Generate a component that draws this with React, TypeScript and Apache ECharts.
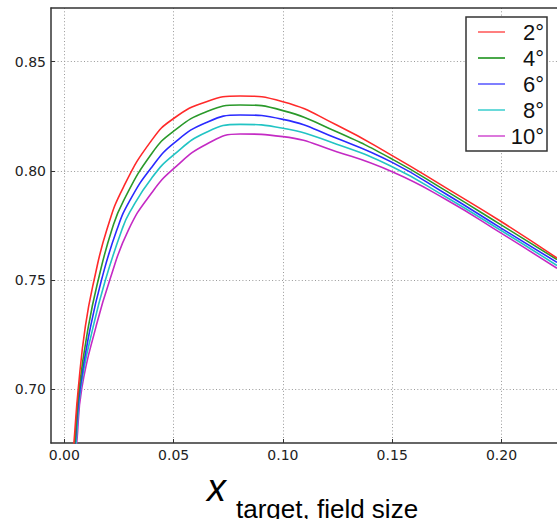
import React, { useEffect, useRef } from "react";
import * as echarts from "echarts";

// Series names
const seriesNames = ["2°", "4°", "6°", "8°", "10°"];
const lineColors = ["#ff2a2a", "#2a992a", "#2a2aff", "#22c4c4", "#c42ac4"];
const legendColors = ["#ff7f7f", "#4aa84a", "#7f7fff", "#6adada", "#dc78dc"];

// Tick values
const xTicks = [0, 0.05, 0.1, 0.15, 0.2];
const yTicks = [0.7, 0.75, 0.8, 0.85];

// 2°
const x2 = [0.0036, 0.0044, 0.0064, 0.0096, 0.0137, 0.0194, 0.027, 0.04, 0.05, 0.065, 0.0804, 0.1, 0.1246, 0.15, 0.175, 0.2, 0.2254];
const y2 = [0.665, 0.6755, 0.7005, 0.7287, 0.7504, 0.7729, 0.7925, 0.8141, 0.824, 0.8317, 0.8343, 0.8317, 0.821, 0.807, 0.792, 0.7767, 0.7601];
// 4°
const x4 = [0.004, 0.0048, 0.0068, 0.011, 0.0156, 0.0217, 0.027, 0.04, 0.05, 0.065, 0.0804, 0.1, 0.1246, 0.15, 0.175, 0.2, 0.2254];
const y4 = [0.665, 0.6755, 0.7005, 0.7287, 0.7504, 0.7729, 0.7862, 0.808, 0.8182, 0.8271, 0.8302, 0.8276, 0.8179, 0.8054, 0.7906, 0.7752, 0.7594];
// 6°
const x6 = [0.0043, 0.005, 0.0072, 0.012, 0.0171, 0.024, 0.03, 0.04, 0.05, 0.065, 0.0804, 0.1, 0.1246, 0.15, 0.175, 0.2, 0.2254];
const y6 = [0.665, 0.6755, 0.7005, 0.7287, 0.7504, 0.7729, 0.7865, 0.8017, 0.8126, 0.8222, 0.8256, 0.8236, 0.8149, 0.8039, 0.7892, 0.7737, 0.7581];
// 8°
const x8 = [0.0046, 0.0054, 0.0075, 0.0132, 0.0189, 0.0263, 0.03, 0.04, 0.05, 0.065, 0.0804, 0.1, 0.1246, 0.15, 0.175, 0.2, 0.2254];
const y8 = [0.665, 0.6755, 0.7005, 0.7287, 0.7504, 0.7729, 0.7812, 0.7968, 0.8073, 0.8177, 0.8213, 0.8195, 0.8122, 0.8019, 0.7878, 0.7726, 0.7567];
// 10°
const x10 = [0.0049, 0.0057, 0.008, 0.0145, 0.0209, 0.0293, 0.04, 0.05, 0.065, 0.0804, 0.1, 0.1246, 0.15, 0.175, 0.2, 0.2254];
const y10 = [0.665, 0.6755, 0.7005, 0.7287, 0.7504, 0.7729, 0.79, 0.801, 0.8122, 0.8169, 0.8157, 0.8088, 0.7996, 0.7867, 0.7714, 0.7554];

const seriesX = [x2, x4, x6, x8, x10];
const seriesY = [y2, y4, y6, y8, y10];

const X_MIN = -0.0061;
const X_MAX = 0.2254;
const Y_MIN = 0.6754;
const Y_MAX = 0.8746;

export default function App() {
  const ref = useRef<HTMLDivElement>(null);
  useEffect(() => {
    if (!ref.current) return;
    const chart = echarts.init(ref.current, null, { renderer: "svg" });
    const series = seriesNames.map((name, i) => ({
      name,
      type: "line",
      xAxisIndex: 0,
      yAxisIndex: 0,
      data: seriesX[i].map((x, j) => [x, seriesY[i][j]]),
      showSymbol: false,
      smooth: 0.5,
      clip: true,
      lineStyle: { color: lineColors[i], width: 1.6 },
      itemStyle: { color: lineColors[i] },
      z: 10 - i,
    }));
    const spine = { show: true, onZero: false, lineStyle: { color: "#333", width: 1.5 } };
    const grid = { type: [1, 2.3], color: "#999", width: 1 };
    const labelStyle = {
      formatter: (v: number) => v.toFixed(2),
      margin: 5,
      fontFamily: "DejaVu Sans",
      fontSize: 14,
      color: "#222",
    };
    chart.setOption({
      animation: false,
      backgroundColor: "#fff",
      grid: { left: 51, top: 8, bottom: 76, right: 0 },
      xAxis: [
        {
          type: "value",
          position: "bottom",
          min: X_MIN,
          max: X_MAX,
          axisLine: spine,
          axisTick: { show: true, inside: true, length: 4, customValues: xTicks, lineStyle: { color: "#333" } },
          axisLabel: { ...labelStyle, customValues: xTicks },
          splitLine: { show: true, lineStyle: grid },
        },
        {
          type: "value",
          position: "top",
          min: X_MIN,
          max: X_MAX,
          axisLine: spine,
          axisTick: { show: false },
          axisLabel: { show: false },
          splitLine: { show: false },
        },
      ],
      yAxis: {
        type: "value",
        position: "left",
        min: Y_MIN,
        max: Y_MAX,
        axisLine: spine,
        axisTick: { show: true, inside: true, length: 4, customValues: yTicks, lineStyle: { color: "#333" } },
        axisLabel: { ...labelStyle, customValues: yTicks },
        splitLine: { show: true, lineStyle: grid },
      },
      legend: {
        orient: "vertical",
        left: 466,
        top: 17,
        padding: [4, 3, 4, 12],
        borderColor: "#333",
        borderWidth: 1.5,
        backgroundColor: "#fff",
        itemWidth: 27,
        itemHeight: 2,
        itemGap: 4,
        icon: "rect",
        data: seriesNames.map((n, i) => ({ name: n, itemStyle: { color: legendColors[i] } })),
        formatter: (n: string) => `{a|${n}}`,
        textStyle: {
          rich: {
            a: {
              width: 34,
              align: "right",
              fontFamily: "Liberation Sans",
              fontSize: 22,
              lineHeight: 22,
              color: "#111",
            },
          },
        },
      },
      graphic: [
        {
          type: "text",
          x: 207,
          y: 487.5,
          style: {
            text: "x",
            fontFamily: "Liberation Sans",
            fontStyle: "italic",
            fontSize: 38,
            fill: "#000",
            verticalAlign: "middle",
          },
        },
        {
          type: "text",
          x: 236,
          y: 509,
          style: {
            text: "target, field size",
            fontFamily: "Liberation Sans",
            fontSize: 26,
            fill: "#000",
            verticalAlign: "middle",
          },
        },
      ],
      series,
    });
    return () => chart.dispose();
  }, []);
  return (
    <div
      ref={ref}
      style={{ position: "fixed", left: 0, top: 0, width: 557, height: 519 }}
    />
  );
}
